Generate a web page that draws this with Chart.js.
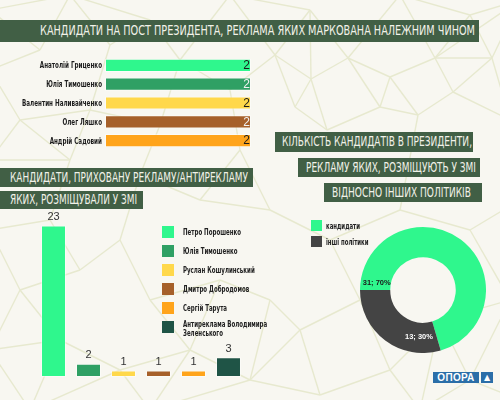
<!DOCTYPE html>
<html><head><meta charset="utf-8">
<script src="https://cdn.jsdelivr.net/npm/chart.js@4.4.1/dist/chart.umd.min.js"></script>
<style>
html,body{margin:0;padding:0;}
body{width:500px;height:400px;overflow:hidden;background:#f8f7f1;position:relative;}
#mesh{position:absolute;left:0;top:0;}
.hdr{position:absolute;background:#415f45;color:#f1f1e8;overflow:hidden;}
.hdr span{position:absolute;white-space:nowrap;font-size:13.5px;line-height:1;top:50%;transform-origin:0 50%;}
canvas{position:absolute;}
.leg{position:absolute;}
.leg .it{position:absolute;left:0;}
.leg .sw{position:absolute;left:0;top:0;}
.leg .tx{position:absolute;white-space:nowrap;font-weight:bold;color:#222;transform-origin:0 0;}
#logo{position:absolute;left:433px;top:372px;width:46px;height:11px;background:#2b6ea8;color:#fff;font:bold 10px "Liberation Sans",Arial,sans-serif;line-height:11px;text-align:center;letter-spacing:0.3px;}
#logo2{position:absolute;left:481px;top:372px;width:12px;height:11px;background:#2b6ea8;color:#fff;font:8px "DejaVu Sans",sans-serif;line-height:11px;text-align:center;}
</style>
</head><body>
<svg id="mesh" width="500" height="400"></svg>
<canvas id="hbar"></canvas>
<canvas id="vbar"></canvas>
<canvas id="donut"></canvas>
<div id="logo">ОПОРА</div><div id="logo2">▲</div>
<script>
// ---------- DATA ----------
const headerTexts = [
  'КАНДИДАТИ НА ПОСТ ПРЕЗИДЕНТА, РЕКЛАМА ЯКИХ МАРКОВАНА НАЛЕЖНИМ ЧИНОМ',
  'КАНДИДАТИ, ПРИХОВАНУ РЕКЛАМУ/АНТИРЕКЛАМУ',
  'ЯКИХ, РОЗМІЩУВАЛИ У ЗМІ',
  'КІЛЬКІСТЬ КАНДИДАТІВ В ПРЕЗИДЕНТИ,',
  'РЕКЛАМУ ЯКИХ, РОЗМІЩУЮТЬ У ЗМІ',
  'ВІДНОСНО ІНШИХ ПОЛІТИКІВ'
];
const markedCandidates = ['Анатолій Гриценко','Юлія Тимошенко','Валентин Наливайченко','Олег Ляшко','Андрій Садовий'];
const markedValues = [2,2,2,2,2];
const hiddenCandidates = ['Петро Порошенко','Юлія Тимошенко','Руслан Кошулинський','Дмитро Добродомов','Сергій Тарута',['Антиреклама Володимира','Зеленського']];
const hiddenValues = [23,2,1,1,1,3];
const shareLabels = ['кандидати','інші політики'];
const shareValues = [31,13];

// ---------- STYLE ----------
const markedColors = ['#2ff78d','#2fa064','#ffd84b','#a6602a','#ffa41b'];
const markedValueColors = ['#1a1a1a','#f2f2f2','#1a1a1a','#f2f2f2','#1a1a1a'];
const hiddenColors = ['#2ff78d','#2fa064','#ffd84b','#a6602a','#ffa41b','#1f5446'];
const shareColors = ['#2ff78d','#444444'];
const shareValueColors = ['#1a1a1a','#ffffff'];
const donutLabelAlong = [0.036, 0.2];

const headerLayout = [
  {box:[0,20,479,42], text:[40,475]},
  {box:[0,168,253,187], text:[10,248]},
  {box:[0,191,143,209], text:[10,137]},
  {box:[275,132,473,152], text:[282,472]},
  {box:[298,158,480,177], text:[306,476]},
  {box:[324,183,482,202], text:[332,471]}
];

// decorative background mesh
const meshPts = [[-10,10],[70,-5],[150,20],[230,-5],[310,10],[400,-5],[470,15],[520,0],
 [275,55],[348,58],[311,79],[295,107],[380,107],[390,77],[435,58],[453,92],[492,58],[418,115],[327,130],[510,120],
 [-10,70],[40,50],[110,45],[180,60],[230,90],[20,120],[90,110],[160,125],[240,150],[-10,160],[70,160],[140,175],
 [200,200],[270,210],[330,240],[400,210],[470,230],[520,200],[-10,230],[50,220],[120,240],
 [20,290],[80,270],[150,300],[220,280],[270,300],[300,330],[360,300],[440,320],[510,300],
 [-10,350],[60,340],[120,370],[190,350],[250,380],[320,395],[390,370],[470,380],[30,410],[150,410],[420,410],[520,400]];
(function(){
  const svg=document.getElementById('mesh'); const seen=new Set(); let h='';
  meshPts.forEach((p,i)=>{
    const nn=meshPts.map((q,j)=>[j,(q[0]-p[0])**2+(q[1]-p[1])**2]).filter(a=>a[0]!==i).sort((a,b)=>a[1]-b[1]).slice(0,3);
    nn.forEach(([j])=>{const key=Math.min(i,j)+'_'+Math.max(i,j); if(seen.has(key))return; seen.add(key);
      const q=meshPts[j]; h+='<line x1="'+p[0]+'" y1="'+p[1]+'" x2="'+q[0]+'" y2="'+q[1]+'" stroke="#e7e9cf" stroke-width="1.4"/>';});
  });
  svg.innerHTML=h;
})();

function fontAvailable(f){
  const c=document.createElement('canvas').getContext('2d');
  const s='АБВГДабвгд mmmWWWiii';
  c.font='20px monospace'; const w0=c.measureText(s).width;
  c.font='20px "'+f+'", monospace'; return c.measureText(s).width!==w0;
}
const NARROW = ['Liberation Sans Narrow','DejaVu Sans Condensed','Roboto Condensed','Roboto'].find(fontAvailable) || 'sans-serif';
const NSTACK = '"'+NARROW+'", "Liberation Sans", sans-serif';
const mctx = document.createElement('canvas').getContext('2d');
function tw(t,font){mctx.font=font;return mctx.measureText(t).width;}

// headers
headerTexts.forEach((t,i)=>{
  const L=headerLayout[i];
  const d=document.createElement('div'); d.className='hdr';
  d.style.left=L.box[0]+'px'; d.style.top=L.box[1]+'px';
  d.style.width=(L.box[2]-L.box[0])+'px'; d.style.height=(L.box[3]-L.box[1])+'px';
  const s=document.createElement('span'); s.textContent=t;
  s.style.fontFamily=NSTACK;
  s.style.left=(L.text[0]-L.box[0])+'px';
  const w=tw(t,'13.5px '+NSTACK);
  const k=(L.text[1]-L.text[0])/w;
  s.style.transform='translateY(-50%) scaleX('+k+')';
  d.appendChild(s); document.body.appendChild(d);
});

// html legends
function makeLegend(labels, colors, opt){
  const wrap=document.createElement('div'); wrap.className='leg';
  wrap.style.left=opt.left+'px'; wrap.style.top=opt.top+'px';
  const font='bold '+opt.size+'px '+NSTACK;
  const k=opt.refWidth/tw(opt.refText,font);
  labels.forEach((lab,i)=>{
    const it=document.createElement('div'); it.className='it'; it.style.top=(i*opt.step)+'px';
    const sw=document.createElement('div'); sw.className='sw';
    sw.style.width=opt.sq+'px'; sw.style.height=opt.sq+'px'; sw.style.background=colors[i];
    const tx=document.createElement('div'); tx.className='tx';
    const lines=Array.isArray(lab)?lab:[lab];
    tx.innerHTML=lines.join('<br>');
    tx.style.font=font; tx.style.lineHeight=(lines.length>1?opt.lh2:opt.sq)+'px';
    tx.style.left=opt.tx+'px'; tx.style.top=(lines.length>1?-1:0)+'px';
    tx.style.transform='scaleX('+k+')';
    it.appendChild(sw); it.appendChild(tx); wrap.appendChild(it);
  });
  document.body.appendChild(wrap);
}
makeLegend(hiddenCandidates, hiddenColors, {left:162,top:226,step:19,sq:12,tx:21,size:9.5,lh2:8.5,refText:'Петро Порошенко',refWidth:58});
makeLegend(shareLabels, shareColors, {left:311,top:220,step:16,sq:11,tx:15,size:9.5,lh2:9,refText:'кандидати',refWidth:34});

Chart.defaults.animation=false;
Chart.defaults.plugins.tooltip.enabled=false;
Chart.defaults.plugins.legend.display=false;

function setCanvas(id,l,t,w,h){const c=document.getElementById(id);c.width=w;c.height=h;c.style.left=l+'px';c.style.top=t+'px';c.style.width=w+'px';c.style.height=h+'px';return c;}

// horizontal bar
const tickFont='bold 9.5px '+NSTACK;
const tickScale=80/tw('Валентин Наливайченко',tickFont);
const hbarPlugin={id:'hv',afterDatasetsDraw(chart){
  const ctx=chart.ctx; const meta=chart.getDatasetMeta(0); const ys=chart.scales.y;
  ctx.save(); ctx.font='12px "Liberation Sans", Arial, sans-serif'; ctx.textAlign='right'; ctx.textBaseline='middle';
  meta.data.forEach((b,i)=>{ctx.fillStyle=markedValueColors[i]; ctx.fillText(String(markedValues[i]), b.x-1, b.y+0.5);});
  ctx.font=tickFont; ctx.fillStyle='#1c1c1c';
  chart.data.labels.forEach((lab,i)=>{
    const y=ys.getPixelForValue(i);
    ctx.save(); ctx.translate(ys.right-3,y+0.5); ctx.scale(tickScale,1); ctx.fillText(lab,0,0); ctx.restore();
  });
  ctx.restore();
}};
new Chart(setCanvas('hbar',0,50,256,104),{
  type:'bar',
  data:{labels:markedCandidates,datasets:[{data:markedValues,backgroundColor:markedColors,borderColor:'rgba(255,255,255,0.45)',borderWidth:1,borderSkipped:false,barPercentage:0.7,categoryPercentage:1}]},
  options:{indexAxis:'y',responsive:false,layout:{padding:{left:0,right:5,top:6,bottom:4}},
    scales:{
      x:{display:false,min:0,max:2},
      y:{grid:{display:false,drawTicks:false},border:{display:false},
         ticks:{display:false},
         afterFit(s){s.width=105;}}
    }},
  plugins:[hbarPlugin]
});

// vertical bar
const vbarValuePlugin={id:'vv',afterDatasetsDraw(chart){
  const ctx=chart.ctx; const meta=chart.getDatasetMeta(0);
  ctx.save(); ctx.font='11px "Liberation Sans", Arial, sans-serif'; ctx.textAlign='center'; ctx.textBaseline='bottom'; ctx.fillStyle='#333';
  meta.data.forEach((b,i)=>{ctx.fillText(String(hiddenValues[i]), b.x, b.y-3);});
  ctx.restore();
}};
new Chart(setCanvas('vbar',0,200,260,185),{
  type:'bar',
  data:{labels:hiddenCandidates,datasets:[{data:hiddenValues,backgroundColor:hiddenColors,borderColor:'rgba(255,255,255,0.45)',borderWidth:1,borderSkipped:false,barPercentage:0.714,categoryPercentage:1}]},
  options:{responsive:false,layout:{padding:{left:36,right:14,top:19,bottom:8}},
    scales:{x:{display:false},y:{display:false,min:0,max:24}}},
  plugins:[vbarValuePlugin]
});

// doughnut
const total=shareValues.reduce((a,b)=>a+b,0);
const donutLabelPlugin={id:'dl',afterDatasetsDraw(chart){
  const ctx=chart.ctx; const meta=chart.getDatasetMeta(0);
  ctx.save(); ctx.font='bold 7.5px "Liberation Sans", Arial, sans-serif'; ctx.textAlign='center'; ctx.textBaseline='middle';
  meta.data.forEach((arc,i)=>{
    const p=arc.getProps(['x','y','startAngle','endAngle','innerRadius','outerRadius'],true);
    const a=p.startAngle+(p.endAngle-p.startAngle)*donutLabelAlong[i];
    const r=(p.innerRadius+p.outerRadius)/2-1;
    ctx.fillStyle=shareValueColors[i];
    ctx.fillText(shareValues[i]+'; '+Math.round(shareValues[i]/total*100)+'%', p.x+Math.cos(a)*r, p.y+Math.sin(a)*r);
  });
  ctx.restore();
}};
new Chart(setCanvas('donut',360,227,126,126),{
  type:'doughnut',
  data:{labels:shareLabels,datasets:[{data:shareValues,backgroundColor:shareColors,borderWidth:0}]},
  options:{responsive:false,cutout:'52%',rotation:-90,layout:{padding:0}},
  plugins:[donutLabelPlugin]
});
</script>
</body></html>
